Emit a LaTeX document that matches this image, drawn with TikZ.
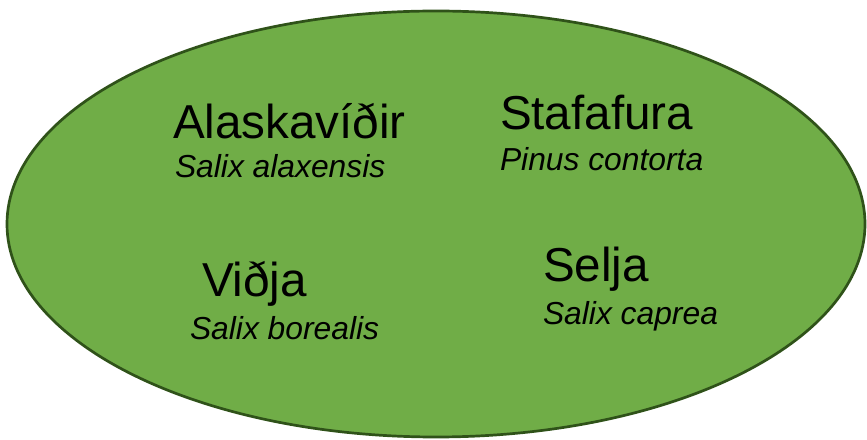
\documentclass[tikz,border=0pt]{standalone}
\usepackage{fontspec}
\setmainfont{Liberation Sans}
\definecolor{leaf}{HTML}{70AD47}
\definecolor{leafline}{HTML}{2F5219}
\begin{document}
\begin{tikzpicture}[x=1pt,y=1pt,
  basetext/.style={anchor=base west,inner sep=0pt,outer sep=0pt,text=black},
  commonname/.style={basetext,font=\fontsize{47.6}{50}\selectfont},
  latinname/.style={basetext,font=\fontsize{31.8}{34}\selectfont\itshape}]
\useasboundingbox (0,0) rectangle (867,439);
\draw[fill=leaf,draw=leafline,line width=2.7pt] (436,215) ellipse [x radius=429, y radius=213];
\node[commonname] (n1) at (173,300) {Alaskavíðir};
\node[latinname]  (l1) at (175,261) {Salix alaxensis};
\node[commonname] (n2) at (500,309) {Stafafura};
\node[latinname]  (l2) at (500,268) {Pinus contorta};
\node[commonname] (n3) at (202,142) {Viðja};
\node[latinname]  (l3) at (190,99) {Salix borealis};
\node[commonname] (n4) at (543,157) {Selja};
\node[latinname]  (l4) at (543,114) {Salix caprea};
\end{tikzpicture}
\end{document}
